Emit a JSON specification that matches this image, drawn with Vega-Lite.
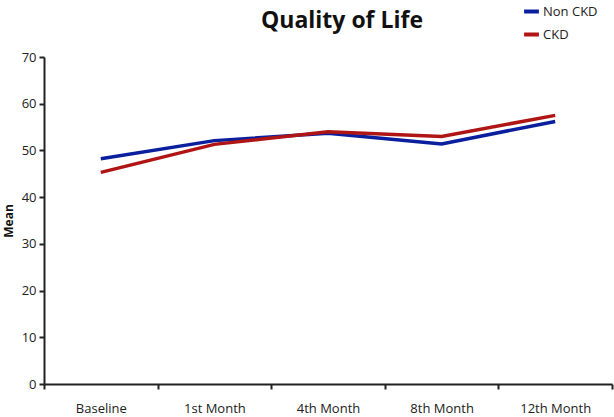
{
  "$schema": "https://vega.github.io/schema/vega-lite/v6.json",
  "width": 568,
  "height": 327,
  "autosize": {"type": "none"},
  "padding": {"left": 44, "top": 57, "right": 2, "bottom": 33},
  "background": "white",
  "title": {"text": "Quality of Life", "fontSize": 23, "font": "Open Sans", "fontWeight": "bold", "color": "#111", "anchor": "middle", "offset": 0, "dy": 31, "dx": 14},
  "data": {"values": [
    {"time": "Baseline", "group": "Non CKD", "mean": 48.2},
    {"time": "1st Month", "group": "Non CKD", "mean": 52.1},
    {"time": "4th Month", "group": "Non CKD", "mean": 53.7},
    {"time": "8th Month", "group": "Non CKD", "mean": 51.4},
    {"time": "12th Month", "group": "Non CKD", "mean": 56.2},
    {"time": "Baseline", "group": "CKD", "mean": 45.3},
    {"time": "1st Month", "group": "CKD", "mean": 51.3},
    {"time": "4th Month", "group": "CKD", "mean": 54.0},
    {"time": "8th Month", "group": "CKD", "mean": 53.0},
    {"time": "12th Month", "group": "CKD", "mean": 57.5}
  ]},
  "mark": {"type": "line", "strokeWidth": 3.5},
  "encoding": {
    "x": {
      "field": "time", "type": "nominal", "sort": ["Baseline", "1st Month", "4th Month", "8th Month", "12th Month"],
      "scale": {"type": "band", "paddingInner": 0, "paddingOuter": 0},
      "axis": {"title": null, "labelAngle": 0, "tickBand": "extent", "domainColor": "#222", "tickColor": "#222", "domainWidth": 2, "tickWidth": 2, "tickSize": 5, "labelFont": "Open Sans", "labelFontSize": 13, "labelColor": "#222", "labelPadding": 13, "grid": false}
    },
    "y": {
      "field": "mean", "type": "quantitative",
      "scale": {"domain": [0, 70]},
      "axis": {"title": "Mean", "titleFont": "Open Sans", "titleFontSize": 12, "titleFontWeight": "bold", "titleColor": "#111", "titlePadding": 6, "values": [0, 10, 20, 30, 40, 50, 60, 70], "grid": false, "domainColor": "#222", "tickColor": "#222", "domainWidth": 2, "tickWidth": 2, "tickSize": 5, "labelFont": "Open Sans", "labelFontSize": 13, "labelColor": "#222", "labelPadding": 3}
    },
    "color": {
      "field": "group", "type": "nominal",
      "scale": {"domain": ["Non CKD", "CKD"], "range": ["#0a1f9e", "#b01515"]},
      "legend": {"title": null, "orient": "none", "legendX": 478, "legendY": -55, "symbolType": "stroke", "symbolStrokeWidth": 4, "symbolSize": 220, "labelFont": "Open Sans", "labelFontSize": 13, "labelColor": "#222", "rowPadding": 5, "labelOffset": 2}
    }
  },
  "config": {"view": {"stroke": null}}
}
